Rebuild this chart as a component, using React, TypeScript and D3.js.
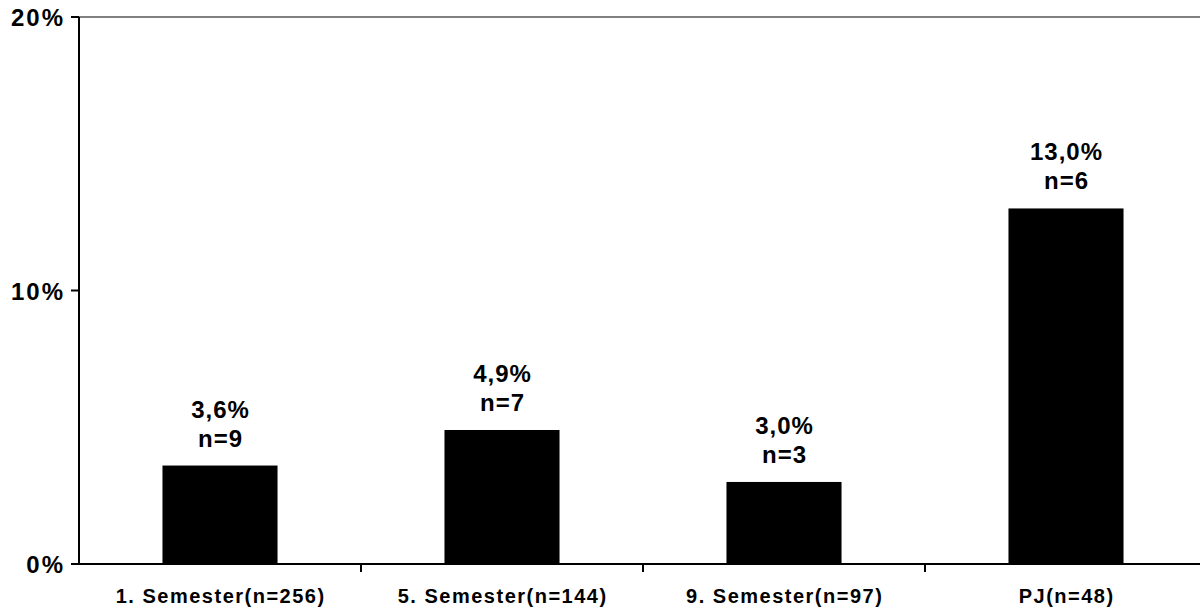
import React from "react";
import * as d3 from "d3";

const categories = ["1. Semester(n=256)", "5. Semester(n=144)", "9. Semester(n=97)", "PJ(n=48)"];
const values = [3.6, 4.9, 3.0, 13.0];
const pctLabels = ["3,6%", "4,9%", "3,0%", "13,0%"];
const nLabels = ["n=9", "n=7", "n=3", "n=6"];
const yTicks = [0, 10, 20];

const W = 1200;
const H = 612;
const left = 79;
const right = 1207;
const top = 17;
const bottom = 564;

export default function App() {
  const x = d3.scaleBand<string>().domain(categories).range([left, right]).paddingInner(0).paddingOuter(0);
  const y = d3.scaleLinear().domain([0, 20]).range([bottom, top]);
  const bw = x.bandwidth() * 0.408;
  const font = "'Liberation Sans', Arial, sans-serif";
  const boundaries = categories.slice(1).map((c) => x(c)!);
  return (
    <svg width={W} height={H} style={{ position: "absolute", left: 0, top: 0 }}>
      <rect x={0} y={0} width={W} height={H} fill="#fff" />
      <line x1={left} x2={right} y1={top} y2={top} stroke="#808080" strokeWidth={2} />
      {categories.map((c, i) => {
        const cx = x(c)! + x.bandwidth() / 2;
        const yt = y(values[i]);
        return (
          <g key={c}>
            <rect x={cx - bw / 2} y={yt} width={bw} height={bottom - yt} fill="#000" />
            <text x={cx + 0.5} y={yt - 48} textAnchor="middle" fontFamily={font} fontWeight="bold" fontSize={24} letterSpacing={1} fill="#000">
              {pctLabels[i]}
            </text>
            <text x={cx + 0.5} y={yt - 19} textAnchor="middle" fontFamily={font} fontWeight="bold" fontSize={24} letterSpacing={1} fill="#000">
              {nLabels[i]}
            </text>
            <text x={cx + 0.7} y={603} textAnchor="middle" fontFamily={font} fontWeight="bold" fontSize={20} letterSpacing={1.5} fill="#000">
              {c}
            </text>
          </g>
        );
      })}
      <line x1={left} x2={left} y1={top} y2={bottom + 1} stroke="#000" strokeWidth={2} />
      <line x1={left} x2={right} y1={bottom} y2={bottom} stroke="#000" strokeWidth={2} />
      {boundaries.map((b, i) => (
        <line key={i} x1={b} x2={b} y1={bottom} y2={bottom + 8} stroke="#000" strokeWidth={2} />
      ))}
      {yTicks.map((t) => (
        <g key={t}>
          <line x1={left - 8} x2={left} y1={y(t)} y2={y(t)} stroke="#000" strokeWidth={2} />
          <text x={65} y={y(t) + 9} textAnchor="end" fontFamily={font} fontWeight="bold" fontSize={24} letterSpacing={2} fill="#000">
            {t}%
          </text>
        </g>
      ))}
    </svg>
  );
}
